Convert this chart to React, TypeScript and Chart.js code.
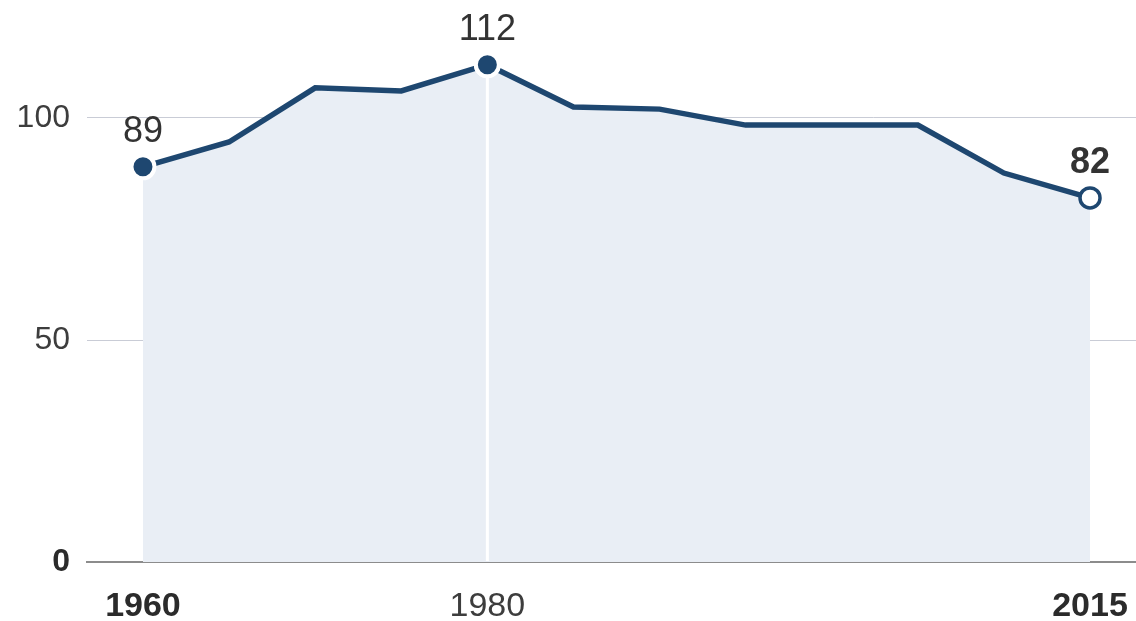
import React, { useEffect, useRef } from "react";
import { Chart, registerables } from "chart.js";

Chart.register(...registerables);

const years = [1960, 1965, 1970, 1975, 1980, 1985, 1990, 1995, 2000, 2005, 2010, 2015];
const values = [89, 94.6, 106.8, 106.1, 112, 102.5, 102, 98.4, 98.4, 98.4, 87.6, 82];
const xTickValues = [1960, 1980, 2015];
const yTickValues = [0, 50, 100];
const labelledIndices = [0, 4, 11];
const boldLabelIndices = [11];
const highlightYear = 1980;

const FONT = "'Liberation Sans', Arial, sans-serif";
const LINE = "#1e4770";
const FILL = "#e9eef5";
const TEXT = "#333333";

const annotationPlugin = {
  id: "annotations",
  afterDatasetsDraw(chart: any) {
    const ctx = chart.ctx;
    const meta = chart.getDatasetMeta(0);
    const xs = chart.scales.x;
    const ys = chart.scales.y;
    const area = chart.chartArea;
    // white vertical marker line at the highlighted year
    const hi = years.indexOf(highlightYear);
    const hx = xs.getPixelForValue(highlightYear);
    const hy = ys.getPixelForValue(values[hi]);
    ctx.save();
    ctx.strokeStyle = "#ffffff";
    ctx.lineWidth = 3;
    ctx.beginPath();
    ctx.moveTo(hx, hy + 13);
    ctx.lineTo(hx, area.bottom - 1);
    ctx.stroke();
    ctx.restore();
    // redraw highlighted point on top
    meta.data[hi].draw(ctx, area);
    // value labels
    ctx.save();
    ctx.fillStyle = TEXT;
    ctx.textAlign = "center";
    ctx.textBaseline = "alphabetic";
    labelledIndices.forEach((i) => {
      const el = meta.data[i];
      const bold = boldLabelIndices.includes(i);
      ctx.font = `${bold ? "bold " : ""}36px ${FONT}`;
      ctx.fillText(String(Math.round(values[i])), el.x, el.y - 25);
    });
    ctx.restore();
  },
};

export default function App() {
  const ref = useRef<HTMLCanvasElement | null>(null);
  useEffect(() => {
    document.body.style.margin = "0";
    const canvas = ref.current;
    if (!canvas) return;
    const chart = new Chart(canvas, {
      type: "line",
      data: {
        datasets: [
          {
            data: years.map((y, i) => ({ x: y, y: values[i] })),
            borderColor: LINE,
            borderWidth: 5.5,
            backgroundColor: FILL,
            fill: "origin",
            tension: 0,
            pointRadius: (c: any) => (c.dataIndex === 11 ? 10 : labelledIndices.includes(c.dataIndex) ? 11.5 : 0),
            pointBorderWidth: (c: any) => (c.dataIndex === 11 ? 3.5 : 4),
            pointBackgroundColor: (c: any) => (c.dataIndex === 11 ? "#ffffff" : LINE),
            pointBorderColor: (c: any) => (c.dataIndex === 11 ? LINE : "#ffffff"),
            pointHoverRadius: 0,
          },
        ],
      },
      options: {
        animation: false,
        responsive: false,
        layout: { autoPadding: false, padding: { top: 7, left: 0, right: 0, bottom: 0 } },
        plugins: { legend: { display: false }, tooltip: { enabled: false } },
        events: [],
        scales: {
          x: {
            type: "linear",
            min: 1956.75,
            max: 2017.67,
            afterBuildTicks: (s: any) => {
              s.ticks = xTickValues.map((v) => ({ value: v }));
            },
            afterFit: (s: any) => {
              s.height = 59;
              s.paddingLeft = 0;
              s.paddingRight = 0;
            },
            grid: { display: false, drawTicks: false },
            border: { display: true, color: "#8c8c8c", width: 2 },
            ticks: {
              padding: 24,
              maxRotation: 0,
              autoSkip: false,
              color: (c: any) => (c.tick && c.tick.value === 1980 ? "#3d3d3d" : "#2b2b2b"),
              font: (c: any) => ({
                family: FONT,
                size: 34,
                weight: c.tick && c.tick.value === 1980 ? "normal" : "bold",
              }),
              callback: (v: any) => String(v),
            },
          },
          y: {
            min: 0,
            max: 125,
            afterBuildTicks: (s: any) => {
              s.ticks = yTickValues.map((v) => ({ value: v }));
            },
            afterFit: (s: any) => {
              s.width = 87;
              s.paddingTop = 0;
              s.paddingBottom = 0;
            },
            grid: {
              drawTicks: false,
              color: (c: any) => (c.tick && c.tick.value === 0 ? "rgba(0,0,0,0)" : "#c9ccd6"),
              lineWidth: 1,
            },
            border: { display: false },
            ticks: {
              padding: 17,
              color: (c: any) => (c.tick && c.tick.value === 0 ? "#2b2b2b" : "#3d3d3d"),
              font: (c: any) => ({
                family: FONT,
                size: 32,
                weight: c.tick && c.tick.value === 0 ? "bold" : "normal",
              }),
              callback: (v: any) => String(v),
            },
          },
        },
      },
      plugins: [annotationPlugin],
    });
    return () => chart.destroy();
  }, []);
  return <canvas ref={ref} width={1136} height={621} style={{ display: "block" }} />;
}
